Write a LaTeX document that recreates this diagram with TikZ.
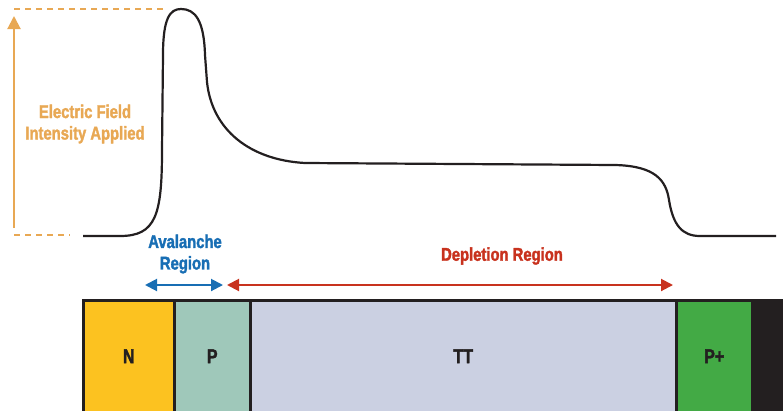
\documentclass[tikz,border=0pt]{standalone}
\usepackage{fontspec}
\setmainfont{Liberation Sans}[FakeStretch=0.8, BoldFeatures={FakeBold=1.8}]
\usetikzlibrary{arrows.meta}
\definecolor{orng}{RGB}{232,168,84}
\definecolor{blu}{RGB}{24,110,180}
\definecolor{rd}{RGB}{200,50,30}
\definecolor{ylw}{RGB}{252,194,32}
\definecolor{grn}{RGB}{159,200,186}
\definecolor{lav}{RGB}{203,208,226}
\definecolor{pgrn}{RGB}{67,170,69}
\definecolor{blk}{RGB}{35,31,32}
\tikzset{
  layer/.style={draw=blk, line width=2.5pt, minimum height=112pt, anchor=north west, inner sep=0pt, font=\bfseries\fontsize{20}{22}\selectfont, text=blk},
  lbl/.style={font=\bfseries\fontsize{18.5}{21.5}\selectfont, align=center},
  orngdash/.style={orng, line width=1.8pt, dash pattern=on 6pt off 5pt},
}
\begin{document}
\begin{tikzpicture}[x=1pt,y=-1pt]
\useasboundingbox (0,0) rectangle (783,410);
% field curve
\draw[line width=2.2pt, blk, line join=round]
  (83,236) -- (120,236) .. controls (156,236) and (162,215) .. (162,150)
  -- (163,55) .. controls (163,18) and (170,9) .. (181,9)
  .. controls (195,9) and (204,20) .. (205,55)
  -- (207,82) .. controls (212,130) and (250,160) .. (305,163)
  -- (615,165) .. controls (655,166) and (666,180) .. (669,200)
  .. controls (673,225) and (682,236) .. (700,236) -- (776,236);
% orange scale
\coordinate (ftop) at (14,9);
\coordinate (fbot) at (14,235);
\coordinate (ftopR) at (167,9);
\coordinate (fbotR) at (70,235);
\draw[orngdash] (ftop) -- (ftopR);
\draw[orngdash] (fbot) -- (fbotR);
\coordinate (abase) at (14,228);
\coordinate (atip) at (14,16);
\draw[orng, line width=2pt, -{Triangle[length=13pt,width=13pt]}] (abase) -- (atip);
\node[lbl, text=orng] (efield) at (85,124) {Electric Field\\Intensity Applied};
% layers
\node[layer, fill=ylw, minimum width=91pt] (N) at (82,299) {N};
\node[layer, fill=grn, minimum width=76pt] (P) at (173,299) {P};
\node[layer, fill=lav, minimum width=426pt] (TT) at (249,299) {TT};
\node[layer, fill=pgrn, minimum width=76pt] (Pp) at (675,299) {P+};
\node[layer, fill=blk, minimum width=40pt] (K) at (751,299) {};
% arrows
\coordinate (a1) at (145,285);
\coordinate (a2) at (223,285);
\coordinate (d1) at (227,285);
\coordinate (d2) at (673,285);
\draw[blu, line width=2pt, {Triangle[length=12pt,width=12pt]}-{Triangle[length=12pt,width=12pt]}] (a1) -- (a2);
\draw[rd, line width=2pt, {Triangle[length=12pt,width=12pt]}-{Triangle[length=12pt,width=12pt]}] (d1) -- (d2);
\node[lbl, text=blu] (aval) at (185,254) {Avalanche\\Region};
\node[lbl, text=rd] (depl) at (502,256) {Depletion Region};
\end{tikzpicture}
\end{document}
